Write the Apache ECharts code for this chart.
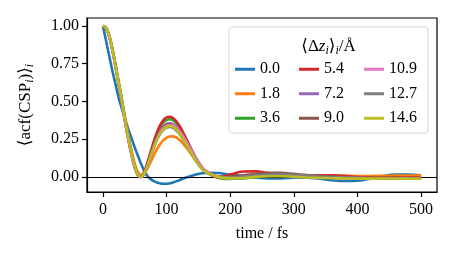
<!DOCTYPE html>
<html><head><meta charset="utf-8">
<script src="https://cdn.jsdelivr.net/npm/echarts@6/dist/echarts.min.js"></script>
<style>html,body{margin:0;padding:0;background:#fff}#c{width:456px;height:263px}</style>
</head><body><div id="c"></div>
<script>
const T = [0,5,10,15,20,25,30,35,40,45,50,55,60,65,70,75,80,85,90,95,100,105,110,115,120,125,130,135,140,145,150,160,180,200,220,240,260,280,300,320,340,360,380,400,420,440,460,480,500];
const names = ['0.0','1.8','3.6','5.4','7.2','9.0','10.9','12.7','14.6'];
const colors = ['#1f77b4','#ff7f0e','#2ca02c','#d62728','#9467bd','#8c564b','#e377c2','#7f7f7f','#bcbd22'];
const v00 = [1.000,0.900,0.800,0.700,0.610,0.520,0.450,0.380,0.315,0.255,0.195,0.140,0.085,0.040,0.005,-0.015,-0.028,-0.037,-0.043,-0.046,-0.046,-0.043,-0.037,-0.030,-0.022,-0.014,-0.006,0.001,0.008,0.014,0.019,
 0.026,0.025,0.015,0.005,-0.005,-0.010,-0.010,-0.006,-0.005,-0.012,-0.022,-0.028,-0.025,-0.012,0.005,0.015,0.016,0.010];
const v18 = [1.000,0.986,0.935,0.848,0.742,0.628,0.515,0.390,0.275,0.175,0.090,0.032,0.013,0.022,0.055,0.098,0.142,0.183,0.217,0.243,0.259,0.267,0.268,0.261,0.246,0.225,0.200,0.172,0.143,0.114,0.087,
 0.042,0.002,-0.006,0.000,0.006,0.008,0.007,0.006,0.008,0.010,0.010,0.008,0.006,0.006,0.007,0.008,0.009,0.010];
const v36 = [1.000,0.985,0.930,0.840,0.730,0.614,0.498,0.368,0.253,0.153,0.068,0.014,0.002,0.030,0.088,0.157,0.224,0.282,0.328,0.360,0.377,0.382,0.376,0.358,0.331,0.296,0.256,0.214,0.172,0.133,0.098,
 0.043,-0.004,-0.014,-0.010,-0.002,0.004,0.006,0.004,0.000,-0.004,-0.006,-0.008,-0.010,-0.011,-0.010,-0.010,-0.011,-0.012];
const v54 = [1.000,0.985,0.930,0.840,0.728,0.610,0.493,0.363,0.248,0.148,0.064,0.012,0.004,0.035,0.095,0.165,0.235,0.295,0.343,0.376,0.394,0.398,0.390,0.370,0.340,0.302,0.260,0.216,0.173,0.133,0.098,
 0.042,-0.002,0.015,0.035,0.036,0.025,0.015,0.010,0.008,0.010,0.010,0.005,-0.002,-0.006,-0.007,-0.005,-0.004,-0.004];
const v72 = [1.000,0.985,0.930,0.840,0.730,0.614,0.498,0.368,0.253,0.153,0.068,0.014,0.001,0.026,0.080,0.145,0.208,0.263,0.305,0.334,0.350,0.355,0.349,0.332,0.306,0.273,0.236,0.197,0.158,0.122,0.090,
 0.040,0.000,-0.004,0.004,0.012,0.016,0.014,0.008,0.002,-0.003,-0.006,-0.008,-0.009,-0.010,-0.009,-0.009,-0.010,-0.011];
const v90 = [1.000,0.985,0.930,0.840,0.730,0.614,0.498,0.368,0.253,0.153,0.068,0.014,0.001,0.025,0.078,0.142,0.204,0.258,0.300,0.329,0.345,0.350,0.344,0.328,0.303,0.271,0.235,0.197,0.159,0.123,0.091,
 0.041,0.002,0.000,0.010,0.020,0.026,0.026,0.020,0.012,0.006,0.002,-0.002,-0.005,-0.007,-0.007,-0.007,-0.008,-0.009];
const v109 = [1.000,0.984,0.926,0.834,0.722,0.604,0.487,0.356,0.242,0.143,0.060,0.008,-0.004,0.018,0.068,0.132,0.194,0.249,0.292,0.322,0.338,0.343,0.340,0.327,0.305,0.276,0.242,0.205,0.168,0.132,0.099,
 0.045,0.002,-0.008,-0.004,0.004,0.008,0.008,0.004,0.000,-0.003,-0.005,-0.007,-0.008,-0.009,-0.009,-0.009,-0.010,-0.011];
const v127 = [1.000,0.985,0.930,0.840,0.730,0.614,0.498,0.368,0.253,0.153,0.068,0.014,0.001,0.023,0.073,0.135,0.194,0.246,0.285,0.312,0.327,0.331,0.325,0.309,0.285,0.254,0.219,0.183,0.147,0.113,0.083,
 0.037,0.001,-0.004,0.002,0.010,0.016,0.018,0.014,0.008,0.002,-0.002,-0.006,-0.008,-0.009,-0.009,-0.009,-0.010,-0.011];
const v146 = [1.000,0.985,0.930,0.840,0.730,0.615,0.500,0.370,0.255,0.155,0.070,0.015,0.000,0.022,0.072,0.135,0.195,0.248,0.288,0.316,0.332,0.337,0.331,0.315,0.290,0.258,0.222,0.185,0.148,0.113,0.083,
 0.036,0.000,-0.010,-0.008,0.000,0.004,0.004,0.000,-0.004,-0.007,-0.009,-0.011,-0.012,-0.012,-0.011,-0.011,-0.012,-0.013];
const values = [v00,v18,v36,v54,v72,v90,v109,v127,v146];
const xTicks = [0,100,200,300,400,500];
const yTicks = [0,0.25,0.5,0.75,1.0];

const FF = "'Liberation Serif','DejaVu Serif',serif";
const chart = echarts.init(document.getElementById('c'), null, {renderer:'canvas'});
const series = values.map((vals,i)=>({
  name: names[i], type:'line', data: T.map((t,j)=>[t, vals[j]]),
  showSymbol:false, symbol:'none', smooth:0.4, z: 2+i,
  lineStyle:{width:2.6, color:colors[i]}, itemStyle:{color:colors[i]},
  emphasis:{disabled:true}
}));
series[8].markLine = {silent:true, symbol:'none', label:{show:false}, data:[{yAxis:0}],
  lineStyle:{color:'#000', width:1.2, type:'solid'}, emphasis:{disabled:true}, animation:false};
const colLeft = [235,299,364];
const legends = [0,1,2].map(c=>({
  data: names.slice(c*3,c*3+3), orient:'vertical', left: colLeft[c], top: 57, padding:0,
  itemWidth:20, itemHeight:3, itemGap:0, icon:'rect', selectedMode:false,
  textStyle:{fontSize:16, fontFamily:FF, color:'#000', lineHeight:24.5}
}));
chart.setOption({
  animation:false,
  grid:{left:87, top:18, right:19, bottom:71, show:true, borderColor:'#000', borderWidth:1.2, backgroundColor:'transparent'},
  xAxis:{type:'value', min:-25, max:525,
    axisLine:{show:true, onZero:false, lineStyle:{color:'#000', width:1.2}},
    axisTick:{show:true, inside:false, length:5, customValues:xTicks, lineStyle:{color:'#000', width:1.2}},
    axisLabel:{customValues:xTicks, margin:10, fontSize:16, fontFamily:FF, color:'#000'},
    splitLine:{show:false},
    name:'time / fs', nameLocation:'middle', nameGap:34,
    nameTextStyle:{fontSize:16, fontFamily:FF, color:'#000'}},
  yAxis:{type:'value', min:-0.1004, max:1.0524,
    axisLine:{show:true, onZero:false, lineStyle:{color:'#000', width:1.2}},
    axisTick:{show:true, inside:false, length:5, customValues:yTicks, lineStyle:{color:'#000', width:1.2}},
    axisLabel:{customValues:yTicks, margin:8, fontSize:16, fontFamily:FF, color:'#000', formatter:v=>v.toFixed(2)},
    splitLine:{show:false},
    name:'{n|\u27E8acf(CSP}{s|i}{n|)\u27E9}{s|i}', nameLocation:'middle', nameGap:51, nameRotate:90,
    nameTextStyle:{rich:{
      n:{fontSize:17, fontFamily:FF, color:'#000', lineHeight:20},
      s:{fontSize:12, fontFamily:FF, fontStyle:'italic', color:'#000', lineHeight:12, verticalAlign:'bottom'}
    }}},
  legend: legends,
  graphic:[
    {type:'rect', shape:{x:229, y:27, width:199, height:106, r:3}, z:3,
     style:{fill:'rgba(255,255,255,0.8)', stroke:'#d6d6d6', lineWidth:1}},
    {type:'text', x:328.5, y:47, z:5,
     style:{text:'{n|\u27E8\u0394}{it|z}{s|i}{n|\u27E9}{s|i}{n|/\u00C5}', align:'center', verticalAlign:'middle',
       rich:{
         n:{fontSize:17, fontFamily:FF, fill:'#000', lineHeight:20},
         it:{fontSize:17, fontFamily:FF, fontStyle:'italic', fill:'#000', lineHeight:20},
         s:{fontSize:12, fontFamily:FF, fontStyle:'italic', fill:'#000', lineHeight:12, verticalAlign:'bottom'}
       }}}
  ],
  series: series
});
</script></body></html>
